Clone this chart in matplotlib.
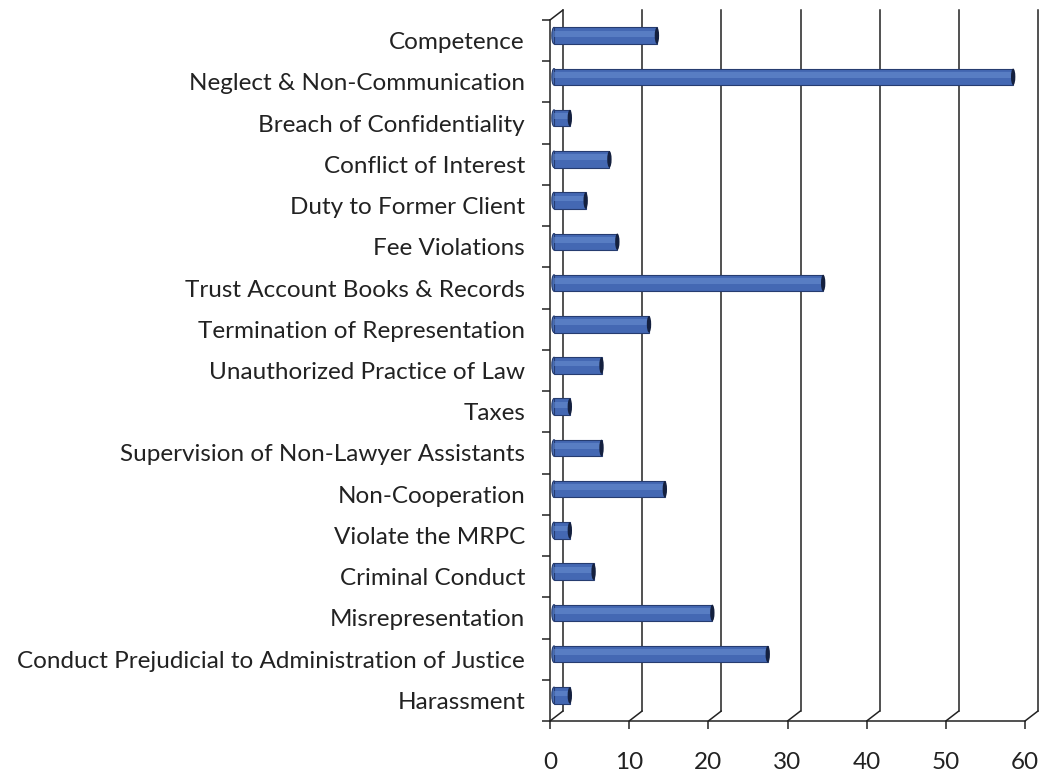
import matplotlib
matplotlib.use("Agg")
import matplotlib.pyplot as plt
from matplotlib.patches import ConnectionPatch, Ellipse
from matplotlib.transforms import offset_copy
import numpy as np

categories = [
    "Competence",
    "Neglect & Non-Communication",
    "Breach of Confidentiality",
    "Conflict of Interest",
    "Duty to Former Client",
    "Fee Violations",
    "Trust Account Books & Records",
    "Termination of Representation",
    "Unauthorized Practice of Law",
    "Taxes",
    "Supervision of Non-Lawyer Assistants",
    "Non-Cooperation",
    "Violate the MRPC",
    "Criminal Conduct",
    "Misrepresentation",
    "Conduct Prejudicial to Administration of Justice",
    "Harassment",
]
counts = [13, 58, 2, 7, 4, 8, 34, 12, 6, 2, 6, 14, 2, 5, 20, 27, 2]
x_ticks = [0, 10, 20, 30, 40, 50, 60]

plt.rcParams['font.family'] = ['Lato', 'DejaVu Sans']

fig = plt.figure(figsize=(10.42, 7.79), dpi=100)
ax = fig.add_axes([550 / 1042, 58 / 779, 475 / 1042, 701 / 779])

n = len(categories)
ypos = np.arange(n)
ax.set_xlim(0, 60)
ax.set_ylim(n - 0.5, -0.5)

# depth of the fake 3d box, in pixels
dx, dy = 13, 10
back = offset_copy(ax.transData, fig=fig, x=dx, y=dy, units='dots')
mid = offset_copy(ax.transData, fig=fig, x=4, y=dy / 2, units='dots')

# back wall gridlines and the floor diagonals
for v in x_ticks:
    ax.plot([v, v], [n - 0.5, -0.5], color='#222222', lw=1.1,
            transform=back, clip_on=False, zorder=1)
    con = ConnectionPatch(xyA=(v, n - 0.5), coordsA=ax.transData,
                          xyB=(v, n - 0.5), coordsB=back,
                          color='#222222', lw=1.1, zorder=1)
    ax.add_artist(con)
con = ConnectionPatch(xyA=(0, -0.5), coordsA=ax.transData,
                      xyB=(0, -0.5), coordsB=back,
                      color='#222222', lw=1.1, zorder=1)
ax.add_artist(con)

# cylinder-ish bars
bh = 0.4
ax.barh(ypos, counts, height=bh, color='#4468b3', edgecolor='#263c70',
        linewidth=0.8, transform=mid, zorder=3)
ax.barh(ypos - bh * 0.12, counts, height=bh * 0.35, color='#6a8fd2',
        linewidth=0, alpha=0.55, transform=mid, zorder=4)
for y, c in zip(ypos, counts):
    ax.add_patch(Ellipse((c, y), width=0.55, height=bh, facecolor='#14203f',
                         edgecolor='none', transform=mid, zorder=5))
    ax.add_patch(Ellipse((0, y), width=0.55, height=bh, facecolor='#4a70b8',
                         edgecolor='#263c70', lw=0.8, transform=mid, zorder=2))

for s in ['top', 'right']:
    ax.spines[s].set_visible(False)
for s in ['left', 'bottom']:
    ax.spines[s].set_color('#222222')
    ax.spines[s].set_linewidth(1.1)

ax.set_xticks(x_ticks)
ax.set_xticklabels([str(t) for t in x_ticks])
ax.tick_params(axis='x', length=6, width=1.1, color='#222222', pad=16,
               labelsize=17.5, labelcolor='#222222')

ax.set_yticks(ypos)
ax.set_yticklabels(categories)
ax.set_yticks(np.arange(n + 1) - 0.5, minor=True)
ax.tick_params(axis='y', which='major', length=0, pad=18, labelsize=17.5,
               labelcolor='#222222')
ax.tick_params(axis='y', which='minor', length=6, width=1.1, color='#222222')

ax.patch.set_alpha(0)
fig.savefig("out.png", dpi=100)
